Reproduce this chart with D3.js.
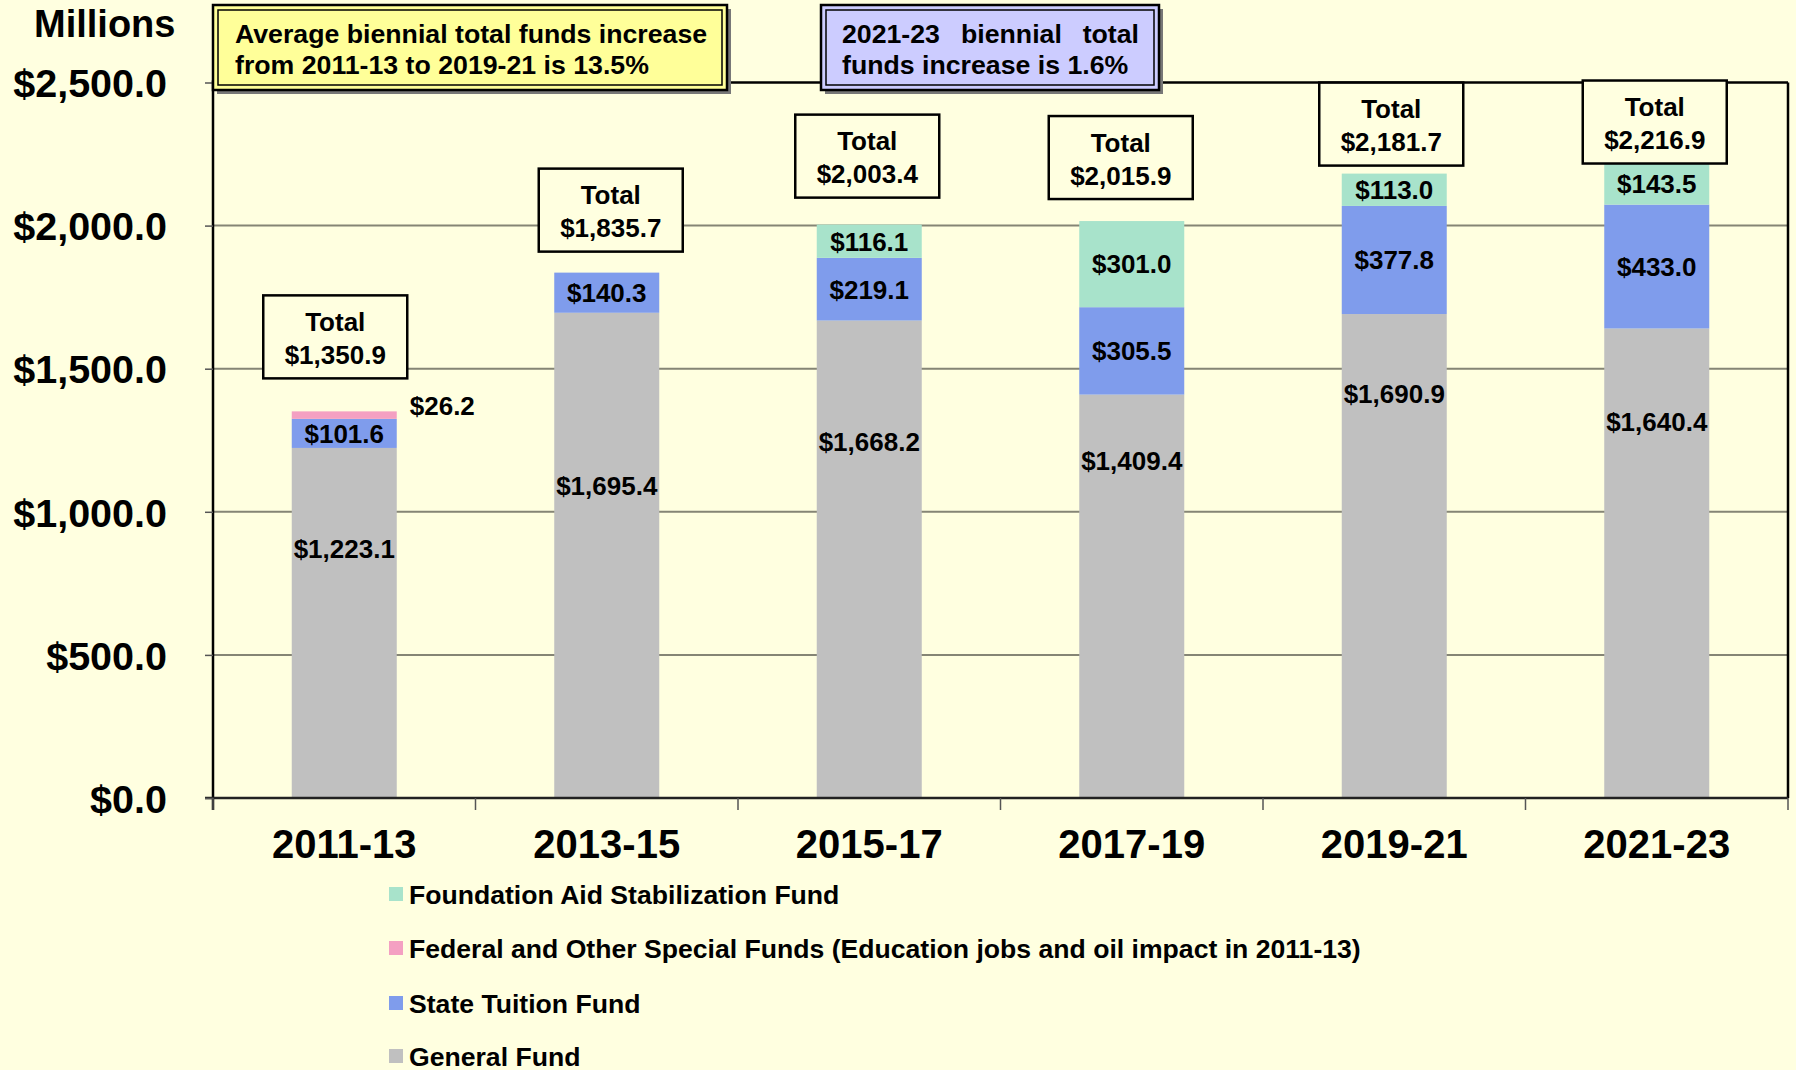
<!DOCTYPE html>
<html>
<head>
<meta charset="utf-8">
<script src="https://cdn.jsdelivr.net/npm/d3@7"></script>
<style>
  body { margin: 0; background: #FFFFE0; }
  svg text { font-family: "Liberation Sans", Arial, sans-serif; font-weight: bold; fill: #000; }
</style>
</head>
<body>
<div id="gr"></div>
<script>
// data
var biennia = ["2011-13", "2013-15", "2015-17", "2017-19", "2019-21", "2021-23"];
var generalFund = [1223.1, 1695.4, 1668.2, 1409.4, 1690.9, 1640.4];
var tuitionFund = [101.6, 140.3, 219.1, 305.5, 377.8, 433.0];
var federalFund = [26.2, 0, 0, 0, 0, 0];
var foundationFund = [0, 0, 116.1, 301.0, 113.0, 143.5];
var totals = [1350.9, 1835.7, 2003.4, 2015.9, 2181.7, 2216.9];
var yTicks = [0, 500, 1000, 1500, 2000, 2500];

var seriesNames = ["General Fund", "State Tuition Fund",
  "Federal and Other Special Funds (Education jobs and oil impact in 2011-13)",
  "Foundation Aid Stabilization Fund"];
var seriesColors = ["#C0C0C0", "#7F9CEC", "#F4A0C2", "#A8E3CB"];

// label layout (where the general fund labels sit, and total box nudges)
var generalLabelAt = [872, 1092, 1244, 1180, 1412, 1316];
var boxDx = [-9, 4, -2, -11, -3, -2];
var boxGap = [33, 21, 27, 22, 8, 0];

var width = 1796, height = 1070;
var plotLeft = 213, plotRight = 1788, plotTop = 82.5, plotBottom = 798;

var svg = d3.select("#gr").append("svg")
  .attr("width", width).attr("height", height);

svg.append("rect").attr("width", width).attr("height", height).attr("fill", "#FFFFE0");

var x = d3.scaleBand().domain(biennia).range([plotLeft, plotRight])
  .paddingInner(0.6).paddingOuter(0.3);
var y = d3.scaleLinear().domain([0, 2500]).range([plotBottom, plotTop]);

// gridlines
svg.selectAll(".grid").data(yTicks.filter(function (d) { return d > 0 && d < 2500; }))
  .enter().append("line")
  .attr("x1", plotLeft).attr("x2", plotRight)
  .attr("y1", function (d) { return y(d); }).attr("y2", function (d) { return y(d); })
  .attr("stroke", "#858575").attr("stroke-width", 2);

// frame
svg.append("line").attr("x1", plotLeft).attr("x2", plotRight).attr("y1", y(2500)).attr("y2", y(2500))
  .attr("stroke", "#000").attr("stroke-width", 2.5);
svg.append("line").attr("x1", plotRight).attr("x2", plotRight).attr("y1", y(2500)).attr("y2", plotBottom)
  .attr("stroke", "#000").attr("stroke-width", 2.5);

// stacked bars
var rows = biennia.map(function (b, i) {
  return { cat: b, g: generalFund[i], t: tuitionFund[i], f: federalFund[i], s: foundationFund[i] };
});
var stack = d3.stack().keys(["g", "t", "f", "s"])(rows);

svg.selectAll(".layer").data(stack).enter().append("g")
  .attr("fill", function (d, i) { return seriesColors[i]; })
  .selectAll("rect").data(function (d) { return d; }).enter().append("rect")
  .attr("x", function (d) { return x(d.data.cat); })
  .attr("width", x.bandwidth())
  .attr("y", function (d) { return y(d[1]); })
  .attr("height", function (d) { return y(d[0]) - y(d[1]); });

// axes lines
svg.append("line").attr("x1", plotLeft).attr("x2", plotLeft).attr("y1", y(2500) - 2).attr("y2", plotBottom + 12)
  .attr("stroke", "#000").attr("stroke-width", 2.5);
svg.append("line").attr("x1", plotLeft - 8).attr("x2", plotRight).attr("y1", plotBottom).attr("y2", plotBottom)
  .attr("stroke", "#222").attr("stroke-width", 2.5);

// y axis
var yAxis = d3.axisLeft(y).tickValues(yTicks).tickSize(8).tickPadding(38)
  .tickFormat(function (d) { return "$" + d3.format(",.1f")(d); });
var ya = svg.append("g").attr("transform", "translate(" + plotLeft + ",0)").call(yAxis);
ya.select(".domain").remove();
ya.selectAll(".tick line").attr("stroke", "#555").attr("stroke-width", 1.5);
ya.selectAll(".tick text").style("font-size", "39.5px").attr("dy", "0.36em")
  .style("font-family", "'Liberation Sans', Arial, sans-serif");

svg.append("text").attr("x", 34).attr("y", 37).style("font-size", "38px").text("Millions");

// x axis
var xAxis = d3.axisBottom(x).tickSize(0).tickPadding(32);
var xa = svg.append("g").attr("transform", "translate(0," + plotBottom + ")").call(xAxis);
xa.select(".domain").remove();
xa.selectAll(".tick text").style("font-size", "40px")
  .style("font-family", "'Liberation Sans', Arial, sans-serif");

var bounds = biennia.map(function (b) { return x(b) - x.step() * 0.3; }).concat([plotRight]);
svg.selectAll(".xt").data(bounds).enter().append("line")
  .attr("x1", function (d) { return d; }).attr("x2", function (d) { return d; })
  .attr("y1", plotBottom).attr("y2", plotBottom + 12)
  .attr("stroke", "#555").attr("stroke-width", 1.5);

// value labels
var fmt = function (v) { return "$" + d3.format(",.1f")(v); };
var cx = function (i) { return x(biennia[i]) + x.bandwidth() / 2; };

biennia.forEach(function (b, i) {
  svg.append("text").attr("x", cx(i)).attr("y", y(generalLabelAt[i]))
    .attr("text-anchor", "middle").attr("dy", "0.36em").style("font-size", "26px")
    .text(fmt(generalFund[i]));
  var t0 = generalFund[i];
  svg.append("text").attr("x", cx(i)).attr("y", y(t0 + tuitionFund[i] / 2))
    .attr("text-anchor", "middle").attr("dy", "0.36em").style("font-size", "26px")
    .text(fmt(tuitionFund[i]));
  if (federalFund[i] > 0) {
    svg.append("text").attr("x", x(b) + x.bandwidth() + 13).attr("y", y(t0 + tuitionFund[i] + federalFund[i]) - 6)
      .attr("dy", "0.36em").style("font-size", "26px").text(fmt(federalFund[i]));
  }
  if (foundationFund[i] > 0) {
    svg.append("text").attr("x", cx(i)).attr("y", y(t0 + tuitionFund[i] + foundationFund[i] / 2))
      .attr("text-anchor", "middle").attr("dy", "0.36em").style("font-size", "26px")
      .text(fmt(foundationFund[i]));
  }
  // total box
  var bw = 144, bh = 83;
  var bx = cx(i) + boxDx[i] - bw / 2;
  var by = y(totals[i]) - boxGap[i] - bh;
  svg.append("rect").attr("x", bx).attr("y", by).attr("width", bw).attr("height", bh)
    .attr("fill", "#FFFFE0").attr("stroke", "#000").attr("stroke-width", 2.5);
  svg.append("text").attr("x", bx + bw / 2).attr("y", by + 26.5).attr("dy", "0.36em")
    .attr("text-anchor", "middle").style("font-size", "26px").text("Total");
  svg.append("text").attr("x", bx + bw / 2).attr("y", by + 59.5).attr("dy", "0.36em")
    .attr("text-anchor", "middle").style("font-size", "26px").text(fmt(totals[i]));
});

// annotation boxes
function noteBox(x0, y0, w, h, fill) {
  svg.append("rect").attr("x", x0 + 4).attr("y", y0 + 4).attr("width", w).attr("height", h)
    .attr("fill", "#777");
  svg.append("rect").attr("x", x0).attr("y", y0).attr("width", w).attr("height", h)
    .attr("fill", fill).attr("stroke", "#000").attr("stroke-width", 2.5);
  svg.append("rect").attr("x", x0 + 5).attr("y", y0 + 5).attr("width", w - 10).attr("height", h - 10)
    .attr("fill", "none").attr("stroke", "#000").attr("stroke-width", 1.5);
}
noteBox(213, 5, 514, 85, "#FFFF99");
svg.append("text").attr("x", 235).attr("y", 33).attr("dy", "0.36em").style("font-size", "26.7px")
  .text("Average biennial total funds increase");
svg.append("text").attr("x", 235).attr("y", 64).attr("dy", "0.36em").style("font-size", "26.7px")
  .text("from 2011-13 to 2019-21 is 13.5%");

noteBox(821, 5, 338, 85, "#CCCCFF");
svg.append("text").attr("x", 842).attr("y", 33).attr("dy", "0.36em").style("font-size", "26.7px").text("2021-23");
svg.append("text").attr("x", 961).attr("y", 33).attr("dy", "0.36em").style("font-size", "26.7px").text("biennial");
svg.append("text").attr("x", 1139).attr("y", 33).attr("dy", "0.36em").attr("text-anchor", "end")
  .style("font-size", "26.7px").text("total");
svg.append("text").attr("x", 842).attr("y", 64).attr("dy", "0.36em").style("font-size", "26.7px")
  .text("funds increase is 1.6%");

// legend
var legendOrder = [3, 2, 1, 0];
var legendY = [894, 948, 1003, 1056];
legendOrder.forEach(function (s, k) {
  svg.append("rect").attr("x", 389).attr("y", legendY[k] - 7).attr("width", 14).attr("height", 14)
    .attr("fill", seriesColors[s]);
  svg.append("text").attr("x", 409).attr("y", legendY[k]).attr("dy", "0.36em")
    .style("font-size", "26.6px").text(seriesNames[s]);
});
</script>
</body>
</html>
